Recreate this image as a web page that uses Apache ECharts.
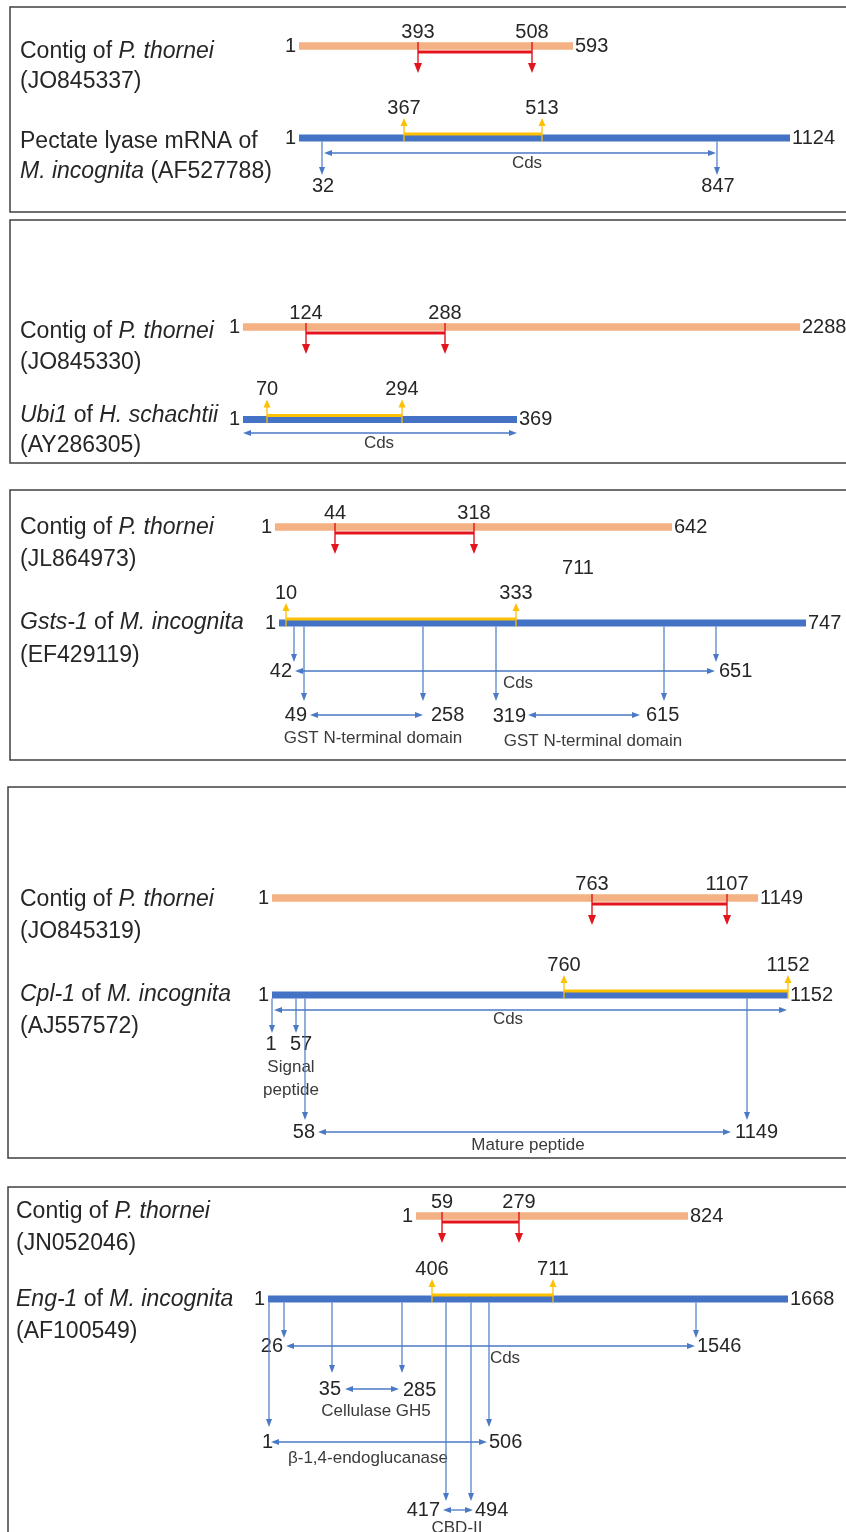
<!DOCTYPE html>
<html><head><meta charset="utf-8">
<script src="https://cdn.jsdelivr.net/npm/echarts@6/dist/echarts.min.js"></script>
<style>html,body{margin:0;padding:0;background:#fff}#c{width:846px;height:1532px}</style>
</head><body><div id="c"></div>
<script>
// ================= DATA (sequence numbers and their schematic x-positions) =================
// Panel 1 — pectate lyase
const p1Names  = ['Contig of {i|P. thornei}', '(JO845337)', 'Pectate lyase mRNA of', '{i|M. incognita} (AF527788)'];
const p1Contig = [1, 593];     const p1ContigX = [299, 573];
const p1Hit    = [393, 508];   const p1HitX    = [418, 532];
const p1Gene   = [1, 1124];    const p1GeneX   = [299, 790];
const p1Match  = [367, 513];   const p1MatchX  = [404, 542];
const p1Cds    = [32, 847];    const p1CdsX    = [322, 717];

// Panel 2 — Ubi1
const p2Names  = ['Contig of {i|P. thornei}', '(JO845330)', '{i|Ubi1} of {i|H. schachtii}', '(AY286305)'];
const p2Contig = [1, 2288];    const p2ContigX = [243, 800];
const p2Hit    = [124, 288];   const p2HitX    = [306, 445];
const p2Gene   = [1, 369];     const p2GeneX   = [243, 517];
const p2Match  = [70, 294];    const p2MatchX  = [267, 402];
const p2CdsX   = [243, 517];

// Panel 3 — Gsts-1
const p3Names  = ['Contig of {i|P. thornei}', '(JL864973)', '{i|Gsts-1} of {i|M. incognita}', '(EF429119)'];
const p3Contig = [1, 642];     const p3ContigX = [275, 672];
const p3Hit    = [44, 318];    const p3HitX    = [335, 474];
const p3Extra  = 711;
const p3Gene   = [1, 747];     const p3GeneX   = [279, 806];
const p3Match  = [10, 333];    const p3MatchX  = [286, 516];
const p3Cds    = [42, 651];    const p3CdsX    = [294, 716];
const p3Dom1   = [49, 258];    const p3Dom1X   = [304, 423];
const p3Dom2   = [319, 615];   const p3Dom2X   = [496, 664];

// Panel 4 — Cpl-1
const p4Names  = ['Contig of {i|P. thornei}', '(JO845319)', '{i|Cpl-1} of {i|M. incognita}', '(AJ557572)'];
const p4Contig = [1, 1149];    const p4ContigX = [272, 758];
const p4Hit    = [763, 1107];  const p4HitX    = [592, 727];
const p4Gene   = [1, 1152];    const p4GeneX   = [272, 788];
const p4Match  = [760, 1152];  const p4MatchX  = [564, 788];
const p4CdsX   = [272, 788];
const p4Signal = [1, 57];      const p4SignalX = [272, 296];
const p4Mature = [58, 1149];   const p4MatureX = [305, 747];

// Panel 5 — Eng-1
const p5Names  = ['Contig of {i|P. thornei}', '(JN052046)', '{i|Eng-1} of {i|M. incognita}', '(AF100549)'];
const p5Contig = [1, 824];     const p5ContigX = [416, 688];
const p5Hit    = [59, 279];    const p5HitX    = [442, 519];
const p5Gene   = [1, 1668];    const p5GeneX   = [268, 788];
const p5Match  = [406, 711];   const p5MatchX  = [432, 553];
const p5Cds    = [26, 1546];   const p5CdsX    = [284, 696];
const p5Gh5    = [35, 285];    const p5Gh5X    = [332, 402];
const p5Endo   = [1, 506];     const p5EndoX   = [269, 489];
const p5Cbd    = [417, 494];   const p5CbdX    = [446, 471];

const featureNames = ['Cds', 'GST N-terminal domain', 'Signal', 'peptide', 'Mature peptide', 'Cellulase GH5', 'β-1,4-endoglucanase', 'CBD-II'];

// ================= STYLE =================
const FONT = "'Liberation Sans', Arial, 'DejaVu Sans', sans-serif";
const C_ORANGE = '#F4B183', C_BLUE = '#4472C4', C_RED = '#E3141C', C_YELLOW = '#FFC000',
      C_ARROW = '#4A79C6', C_TEXT = '#262626', C_SMALL = '#3a3a3a', C_BOX = '#404040';

// ================= PRIMITIVE BUILDERS =================
const prims = [];
const P = o => prims.push(o);
function text(x, y, s, align, size, color) { P({t:'text', x, y, s:String(s), align:align||'center', size, color:color||C_TEXT}); }
function num(x, y, v, align) { text(x, y, v, align, 20); }
function small(x, y, s) { text(x, y, s, 'center', 17, C_SMALL); }
function bar(x1, x2, y, w, color) { P({t:'bar', x1, x2, y, w, color}); }
function seg(x1, y1, x2, y2, w, color, heads, hs) { P({t:'line', x1, y1, x2, y2, w, color, heads:heads||'', hs:hs||[7,8]}); }
function box(top, bottom, left) { P({t:'rect', x1:left, y1:top, x2:870, y2:bottom}); }
function names(list, ys, x) { list.forEach((s, i) => text(x, ys[i], s, 'left', 23)); }
function seqRow(ends, xs, y, w, color) {
  bar(xs[0], xs[1], y, w, color);
  num(xs[0] - 3, y, ends[0], 'right');
  num(xs[1] + 2, y, ends[1], 'left');
}
function hitMarks(vals, xs, y) {
  seg(xs[0], y + 6, xs[1], y + 6, 3, C_RED);
  xs.forEach((x, i) => { seg(x, y - 4, x, y + 27, 1.4, C_RED, 'e', [8, 10]); num(x, y - 14, vals[i]); });
}
function matchMarks(vals, xs, y) {
  seg(xs[0], y - 4, xs[1], y - 4, 3, C_YELLOW);
  xs.forEach((x, i) => { seg(x, y + 3.5, x, y - 20, 1.3, C_YELLOW, 'e', [7, 8]); num(x, y - 30, vals[i]); });
}
function down(x, y1, y2) { seg(x, y1, x, y2, 1.2, C_ARROW, 'e', [6, 8]); }
function span(x1, x2, y) { seg(x1, y, x2, y, 1.3, C_ARROW, 'b', [6, 8]); }

// ================= PANEL 1 =================
(function () {
  const c = 46, g = 138, gb = g + 3.5;
  box(7, 212, 10);
  names(p1Names, [52, 82, 142, 172], 20);
  seqRow(p1Contig, p1ContigX, c, 7.5, C_ORANGE);
  hitMarks(p1Hit, p1HitX, c);
  seqRow(p1Gene, p1GeneX, g, 7, C_BLUE);
  matchMarks(p1Match, p1MatchX, g);
  p1CdsX.forEach((x, i) => { down(x, gb, 175); num(x + 1, 186, p1Cds[i]); });
  span(p1CdsX[0] + 2, p1CdsX[1] - 1, 153);
  small(527, 163, featureNames[0]);
})();

// ================= PANEL 2 =================
(function () {
  const c = 327, g = 419.5;
  box(220, 463, 10);
  names(p2Names, [332, 363, 416, 446], 20);
  seqRow(p2Contig, p2ContigX, c, 7.5, C_ORANGE);
  hitMarks(p2Hit, p2HitX, c);
  seqRow(p2Gene, p2GeneX, g, 7, C_BLUE);
  matchMarks(p2Match, p2MatchX, g);
  span(p2CdsX[0], p2CdsX[1], 433);
  small(379, 443, featureNames[0]);
})();

// ================= PANEL 3 =================
(function () {
  const c = 527, g = 623, gb = g + 3.5;
  box(490, 760, 10);
  names(p3Names, [528, 560, 623, 656], 20);
  seqRow(p3Contig, p3ContigX, c, 7.5, C_ORANGE);
  hitMarks(p3Hit, p3HitX, c);
  num(578, 568, p3Extra);
  seqRow(p3Gene, p3GeneX, g, 7, C_BLUE);
  matchMarks(p3Match, p3MatchX, g);
  p3CdsX.forEach(x => down(x, gb, 662));
  span(p3CdsX[0] + 1, p3CdsX[1] - 1, 671);
  num(292, 671, p3Cds[0], 'right'); num(719, 671, p3Cds[1], 'left');
  small(518, 683, featureNames[0]);
  p3Dom1X.forEach(x => down(x, gb, 701));
  span(310, 423, 715);
  num(307, 715, p3Dom1[0], 'right'); num(431, 715, p3Dom1[1], 'left');
  small(373, 738, featureNames[1]);
  p3Dom2X.forEach(x => down(x, gb, 701));
  span(528, 640, 715);
  num(526, 716, p3Dom2[0], 'right'); num(646, 715, p3Dom2[1], 'left');
  small(593, 741, featureNames[1]);
})();

// ================= PANEL 4 =================
(function () {
  const c = 898, g = 995, gb = g + 3.5;
  box(787, 1158, 8);
  names(p4Names, [900, 932, 995, 1027], 20);
  seqRow(p4Contig, p4ContigX, c, 7.5, C_ORANGE);
  hitMarks(p4Hit, p4HitX, c);
  seqRow(p4Gene, p4GeneX, g, 7, C_BLUE);
  matchMarks(p4Match, p4MatchX, g);
  span(p4CdsX[0] + 2, p4CdsX[1] - 1, 1010);
  small(508, 1019, featureNames[0]);
  p4SignalX.forEach((x, i) => { down(x, gb, 1033); num(x - 1 + i * 6, 1044, p4Signal[i]); });
  small(291, 1067, featureNames[2]);
  small(291, 1090, featureNames[3]);
  p4MatureX.forEach(x => down(x, gb, 1120));
  span(318, 731, 1132);
  num(315, 1132, p4Mature[0], 'right'); num(735, 1132, p4Mature[1], 'left');
  small(528, 1145, featureNames[4]);
})();

// ================= PANEL 5 =================
(function () {
  const c = 1216, g = 1299, gb = g + 3.5;
  box(1187, 1560, 8);
  names(p5Names, [1212, 1244, 1300, 1332], 16);
  seqRow(p5Contig, p5ContigX, c, 7.5, C_ORANGE);
  hitMarks(p5Hit, p5HitX, c);
  seqRow(p5Gene, p5GeneX, g, 7, C_BLUE);
  matchMarks(p5Match, p5MatchX, g);
  p5CdsX.forEach(x => down(x, gb, 1338));
  span(286, 695, 1346);
  num(283, 1346, p5Cds[0], 'right'); num(697, 1346, p5Cds[1], 'left');
  small(505, 1358, featureNames[0]);
  p5Gh5X.forEach(x => down(x, gb, 1373));
  span(345, 399, 1389);
  num(341, 1389, p5Gh5[0], 'right'); num(403, 1390, p5Gh5[1], 'left');
  small(376, 1411, featureNames[5]);
  p5EndoX.forEach(x => down(x, gb, 1427));
  span(271, 487, 1442);
  num(273, 1442, p5Endo[0], 'right'); num(489, 1442, p5Endo[1], 'left');
  small(368, 1458, featureNames[6]);
  p5CbdX.forEach(x => down(x, gb, 1501));
  span(443, 473, 1510);
  num(440, 1510, p5Cbd[0], 'right'); num(475, 1510, p5Cbd[1], 'left');
  small(457, 1528, featureNames[7]);
})();

// ================= RENDER =================
function renderItem(params, api) {
  const p = prims[params.dataIndex];
  const c = (x, y) => api.coord([x, y]);
  if (p.t === 'rect') {
    const a = c(p.x1, p.y1), b = c(p.x2, p.y2);
    return {type:'rect', shape:{x:a[0], y:a[1], width:b[0]-a[0], height:b[1]-a[1]},
            style:{fill:'none', stroke:C_BOX, lineWidth:1.5}};
  }
  if (p.t === 'bar') {
    const a = c(p.x1, p.y), b = c(p.x2, p.y);
    return {type:'rect', shape:{x:a[0], y:a[1]-p.w/2, width:b[0]-a[0], height:p.w}, style:{fill:p.color}};
  }
  if (p.t === 'line') {
    const a = c(p.x1, p.y1), b = c(p.x2, p.y2);
    const dx = b[0]-a[0], dy = b[1]-a[1], L = Math.hypot(dx, dy) || 1, ux = dx/L, uy = dy/L;
    const hw = p.hs[0], hl = p.hs[1];
    const kids = [];
    let s0 = a.slice(), s1 = b.slice();
    const head = (tip, vx, vy) => {
      const bx = tip[0]-vx*hl, by = tip[1]-vy*hl;
      return {type:'polygon', shape:{points:[[tip[0], tip[1]], [bx - vy*hw/2, by + vx*hw/2], [bx + vy*hw/2, by - vx*hw/2]]},
              style:{fill:p.color}};
    };
    if (p.heads === 'e' || p.heads === 'b') { kids.push(head(b, ux, uy)); s1 = [b[0]-ux*hl*0.7, b[1]-uy*hl*0.7]; }
    if (p.heads === 'b') { kids.push(head(a, -ux, -uy)); s0 = [a[0]+ux*hl*0.7, a[1]+uy*hl*0.7]; }
    kids.unshift({type:'line', shape:{x1:s0[0], y1:s0[1], x2:s1[0], y2:s1[1]}, style:{stroke:p.color, lineWidth:p.w}});
    return {type:'group', children:kids};
  }
  const a = c(p.x, p.y);
  return {type:'text', x:a[0], y:a[1],
          style:{text:p.s, fill:p.color, fontSize:p.size, fontFamily:FONT, align:p.align, verticalAlign:'middle',
                 rich:{i:{fontStyle:'italic', fontSize:p.size, fontFamily:FONT, fill:p.color}}}};
}

const chart = echarts.init(document.getElementById('c'), null, {renderer:'canvas'});
chart.setOption({
  animation:false,
  backgroundColor:'#ffffff',
  grid:{left:0, right:0, top:0, bottom:0},
  xAxis:{type:'value', min:0, max:846, show:false},
  yAxis:{type:'value', min:0, max:1532, inverse:true, show:false},
  series:[{
    type:'custom', coordinateSystem:'cartesian2d', clip:false, silent:true,
    renderItem,
    data: prims.map(p => [p.x != null ? p.x : p.x1, p.y != null ? p.y : p.y1])
  }]
});
</script></body></html>
